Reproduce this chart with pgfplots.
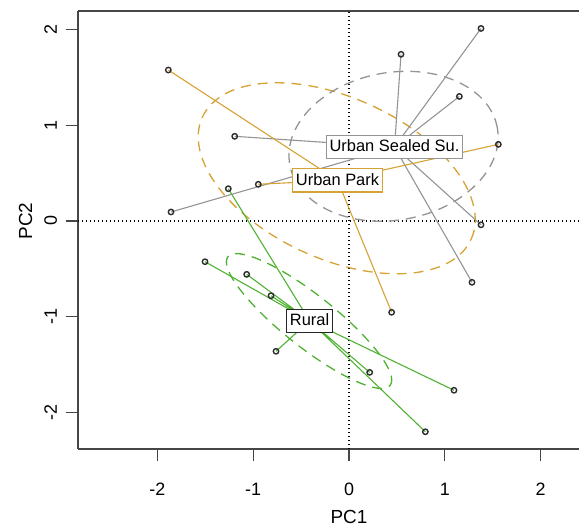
\documentclass[border=0pt]{standalone}
\usepackage{pgfplots}
\pgfplotsset{compat=1.18}
\usepackage{fontspec}
\setmainfont{Liberation Sans}
\definecolor{cgray}{RGB}{148,148,148}
\definecolor{cgold}{RGB}{214,162,52}
\definecolor{cgreen}{RGB}{80,178,50}
\definecolor{cmark}{RGB}{45,45,45}
\definecolor{caxis}{RGB}{70,70,70}
\begin{document}
\begin{tikzpicture}
\begin{axis}[
 scale only axis, width=501bp, height=438bp,
 xmin=-2.829, xmax=2.401, ymin=-2.380, ymax=2.192,
 axis x line*=bottom, axis y line*=left,
 axis line style={-, line width=1.1bp, caxis},
 xtick={-2,-1,0,1,2}, ytick={-2,-1,0,1,2},
 tick align=outside, major tick length=12bp,
 tick style={line width=1.1bp, caxis},
 /pgf/number format/assume math mode=true,
 ticklabel style={font=\fontsize{18}{20}\selectfont},
 xticklabel style={anchor=base, yshift=-34bp},
 yticklabel style={anchor=base, xshift=-9bp, rotate=90},
 xlabel={PC1}, ylabel={PC2},
 xlabel style={at={(axis description cs:0.5409,-0.1712)}, anchor=base, font=\fontsize{19}{21}\selectfont},
 ylabel style={at={(axis description cs:-0.0918,0.5206)}, anchor=base, rotate=0, font=\fontsize{19}{21}\selectfont},
]
\coordinate (SW) at (rel axis cs:0,0);
\coordinate (NE) at (rel axis cs:1,1);
% zero lines
\addplot[black, line width=1.5bp, dash pattern=on 1.3bp off 2.7bp] coordinates {(0,-2.38) (0,2.192)};
\addplot[black, line width=1.5bp, dash pattern=on 1.3bp off 2.7bp] coordinates {(-2.829,0) (2.401,0)};
% ellipses
\draw[cgold, line width=1.3bp, dash pattern=on 10bp off 7bp] (axis cs:-0.128,0.446) ellipse [x radius=147.6bp, y radius=80.7bp, rotate=-24.4];
\draw[cgray, line width=1.3bp, dash pattern=on 10bp off 7bp] (axis cs:0.465,0.780) ellipse [x radius=105.4bp, y radius=73.8bp, rotate=10];
\draw[cgreen, line width=1.3bp, dash pattern=on 10bp off 7bp] (axis cs:-0.417,-1.044) ellipse [x radius=103.5bp, y radius=25.9bp, rotate=-38.4];
% spiders
\addplot[cgray, line width=1.1bp] coordinates {
 (0.475,0.772) (0.543,1.74) (0.475,0.772) (1.378,2.01) (0.475,0.772) (1.152,1.30)
 (0.475,0.772) (1.378,-0.04) (0.475,0.772) (-1.193,0.884) (0.475,0.772) (-1.858,0.094)
 (0.475,0.772) (1.284,-0.64) (0.475,0.772)};
\addplot[cgold, line width=1.1bp] coordinates {
 (-0.12,0.425) (-1.886,1.576) (-0.12,0.425) (1.559,0.80) (-0.12,0.425) (-0.947,0.383)
 (-0.12,0.425) (0.445,-0.953) (-0.12,0.425)};
\addplot[cgreen, line width=1.1bp] coordinates {
 (-0.412,-1.042) (-1.26,0.337) (-0.412,-1.042) (-1.503,-0.425) (-0.412,-1.042) (-1.068,-0.557)
 (-0.412,-1.042) (-0.814,-0.78) (-0.412,-1.042) (-0.762,-1.36) (-0.412,-1.042) (0.216,-1.58)
 (-0.412,-1.042) (1.096,-1.767) (-0.412,-1.042) (0.797,-2.20) (-0.412,-1.042)};
% points
\addplot[only marks, mark=o, mark size=2.7bp, mark options={line width=1.4bp, draw=cmark}] coordinates {
 (0.543,1.74) (1.378,2.01) (1.152,1.30) (1.378,-0.04) (-1.193,0.884) (-1.858,0.094) (1.284,-0.64)
 (-1.886,1.576) (1.559,0.80) (-0.947,0.383) (0.445,-0.953)
 (-1.26,0.337) (-1.503,-0.425) (-1.068,-0.557) (-0.814,-0.78) (-0.762,-1.36) (0.216,-1.58) (1.096,-1.767) (0.797,-2.20)};
% labels
\tikzset{lab/.style={fill=white, line width=1.1bp, inner xsep=3bp, inner ysep=4bp, text height=12.5bp, text depth=3bp, font=\fontsize{16.5}{18}\selectfont}}
\node[lab, draw=cgray] at (axis cs:0.475,0.772) {Urban Sealed Su.};
\node[lab, draw=cgold] at (axis cs:-0.12,0.425) {Urban Park};
\node[lab, draw=black!85] at (axis cs:-0.412,-1.042) {Rural};
\draw[caxis, line width=1.1bp] (rel axis cs:0,1) -- (rel axis cs:1,1);
\end{axis}
\pgfresetboundingbox
\useasboundingbox ([xshift=-78bp,yshift=-78bp]SW) rectangle ([yshift=11bp]NE);
\end{tikzpicture}
\end{document}
